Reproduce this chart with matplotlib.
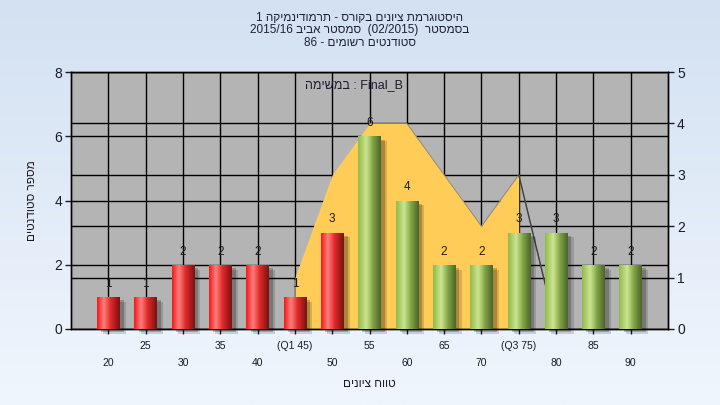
import re
import numpy as np
import matplotlib
matplotlib.use('Agg')
import matplotlib.pyplot as plt
from matplotlib import patheffects
from matplotlib.ticker import FixedLocator

plt.rcParams['font.family'] = ['Liberation Sans', 'DejaVu Sans']

# data
grades = [20, 25, 30, 35, 40, 45, 50, 55, 60, 65, 70, 75, 80, 85, 90]
grade_labels = ['20', '25', '30', '35', '40', '(Q1 45)', '50', '55', '60',
                '65', '70', '(Q3 75)', '80', '85', '90']
counts = [1, 1, 2, 2, 2, 1, 3, 6, 4, 2, 2, 3, 3, 2, 2]
passing = [g >= 55 for g in grades]

curve_grades = [45, 50, 55, 60, 65, 70, 75, 80]
curve_values = [1, 3, 4, 4, 3, 2, 3, 0]
q3 = 75

title_lines = ['היסטוגרמת ציונים בקורס - תרמודינמיקה 1',
               'בסמסטר  (02/2015)  סמסטר אביב 2015/16',
               'סטודנטים רשומים - 86']
note = 'Final_B : במשימה'
xlabel = 'טווח ציונים'
ylabel = 'מספר סטודנטים'


def visual(s):
    # matplotlib has no bidi: put right-to-left text in display order
    mirror = {'(': ')', ')': '('}
    tokens = re.findall(r'[A-Za-z0-9_]+(?:[/._:][A-Za-z0-9_]+)*|.', s)
    return ''.join(mirror.get(t, t) for t in reversed(tokens))


def gradient(stops):
    pos = np.linspace(0, 1, 64)
    cols = np.array([c for _, c in stops]) / 255.0
    at = [p for p, _ in stops]
    img = np.stack([np.interp(pos, at, cols[:, k]) for k in range(3)], axis=-1)
    return img[None, :, :]


red_img = gradient([(0, (245, 25, 25)), (0.3, (255, 125, 125)),
                    (0.6, (225, 40, 40)), (1, (120, 18, 18))])
green_img = gradient([(0, (145, 185, 75)), (0.35, (205, 230, 145)),
                      (0.65, (130, 165, 70)), (1, (75, 100, 40))])

fig = plt.figure(figsize=(7.2, 4.05), dpi=100)

bg = fig.add_axes([0, 0, 1, 1], zorder=-10)
top = np.array([211, 225, 242]) / 255
bot = np.array([240, 246, 253]) / 255
t = np.linspace(0, 1, 256)[:, None, None]
bg.imshow(top + (bot - top) * t, aspect='auto', extent=[0, 1, 0, 1])
bg.axis('off')

ax = fig.add_axes([71 / 720, 1 - 329 / 405, 597 / 720, 257 / 405])
ax2 = ax.twinx()
ax.set_zorder(ax2.get_zorder() + 1)
ax.patch.set_visible(False)
ax2.patch.set_visible(True)
ax2.set_facecolor('#b4b4b4')

ax.set_xlim(15, 95)
ax.set_ylim(0, 8)
ax2.set_ylim(0, 5)

# x ticks in two staggered rows
ax.set_xticks(grades[1::2], grade_labels[1::2])
ax.set_xticks(grades[0::2], grade_labels[0::2], minor=True)
ax.tick_params(axis='x', which='major', length=3.6, width=1, pad=5,
               labelsize=7.5, colors='#1a1a2a')
ax.tick_params(axis='x', which='minor', length=3.6, width=1, pad=17,
               labelsize=7.5, colors='#1a1a2a')
left_ticks = [0, 2, 4, 6, 8]
ax.set_yticks(left_ticks)
ax.tick_params(axis='y', length=4.5, width=1, pad=2, labelsize=10,
               colors='#1a1a2a')
ax2.set_yticks(range(6))
ax2.tick_params(axis='y', which='major', length=4.5, width=1, pad=2,
                labelsize=10, colors='#1a1a2a')

# grid lives in the lower axes so the yellow area covers it
ax2.xaxis.set_visible(True)
ax2.tick_params(axis='x', which='both', bottom=False, top=False,
                labelbottom=False, labeltop=False)
ax2.yaxis.set_minor_locator(FixedLocator([v * 5 / 8 for v in left_ticks]))
ax2.tick_params(axis='y', which='minor', length=0)
ax2.grid(True, which='both', color='black', lw=1)
ax2.set_axisbelow(True)

for a in (ax, ax2):
    for sp in a.spines.values():
        sp.set_color('black')
        sp.set_linewidth(1)

cx = np.array(curve_grades)
cv = np.array(curve_values)
m = cx <= q3
ax2.fill_between(cx[m], cv[m], color='#ffcc58', lw=0, zorder=2)
ax2.plot(cx[cx >= 55], cv[cx >= 55], color='#9a8a6a', lw=0.7, zorder=2.5)
ax2.plot(cx[cx >= q3], cv[cx >= q3], color='#404040', lw=1, zorder=2.6)

bars = ax.bar(grades, counts, width=3, zorder=3, clip_on=False)
for b, ok, c in zip(bars, passing, counts):
    b.set_facecolor('#9cc05a' if ok else '#e02020')
    b.set_linewidth(0)
    b.set_path_effects([
        patheffects.SimplePatchShadow(offset=(4.5, -3.5), shadow_rgbFace='k', alpha=0.15),
        patheffects.SimplePatchShadow(offset=(3, -2.5), shadow_rgbFace='k', alpha=0.22),
        patheffects.Normal()])
    x0, w, h = b.get_x(), b.get_width(), b.get_height()
    im = ax.imshow(green_img if ok else red_img, extent=[x0, x0 + w, 0, h],
                   aspect='auto', zorder=4, interpolation='bilinear')
    im.set_clip_path(b)
    ax.annotate(str(c), (x0 + w / 2, h), xytext=(0, 9.5),
                textcoords='offset points', ha='center', va='center',
                fontsize=8.5, color='#1a1a1a', zorder=5)

ax.set_xlim(15, 95)
ax.set_ylim(0, 8)

ax.text(0.474, 0.949, visual(note), transform=ax.transAxes, ha='center',
        va='center', fontsize=9, color='#201a30', zorder=6)

ax.set_ylabel(visual(ylabel), fontsize=8.5, color='#201a20')
ax.yaxis.set_label_coords(-0.055, 0.5)
ax.set_xlabel(visual(xlabel), fontsize=8.5, color='#201a20')
ax.xaxis.set_label_coords(0.5, -0.19)

for i, line in enumerate(title_lines):
    fig.text(0.5, 1 - (18 + 12.5 * i) / 405, visual(line), ha='center',
             va='center', fontsize=8.5, color='#20203a')

fig.savefig('out.png', dpi=100)
